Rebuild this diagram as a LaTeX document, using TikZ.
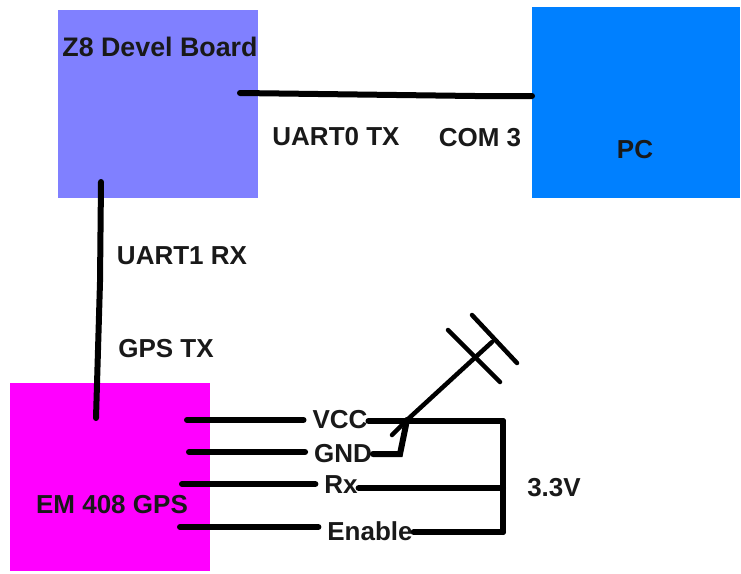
\documentclass[tikz,border=0pt]{standalone}
\usepackage{fontspec}
\setmainfont{Liberation Sans}
\begin{document}
\begin{tikzpicture}[x=1pt, y=-1pt,
    board/.style={draw=none, inner sep=0pt, outer sep=0pt, anchor=north west},
    label/.style={inner sep=0pt, outer sep=1pt, font=\fontsize{26}{28}\bfseries\selectfont, color=black!90},
    wire/.style={line width=6pt, line cap=round, color=black},
    pin wire/.style={wire, shorten >=8pt},
    thin wire/.style={line width=4.5pt, line cap=round, color=black}]

    \useasboundingbox (0,0) rectangle (741,573);

    \node (z8) [board, fill={rgb,255:red,128;green,128;blue,255}, minimum width=200pt, minimum height=188pt] at (58,10) {};
    \node (pc) [board, fill={rgb,255:red,0;green,128;blue,255}, minimum width=208pt, minimum height=191pt] at (532,7) {};
    \node (em) [board, fill={rgb,255:red,255;green,0;blue,255}, minimum width=200pt, minimum height=188pt] at (10,383) {};

    \node (z8name) [label, font=\fontsize{26.8}{28}\bfseries\selectfont] at (160,47) {Z8 Devel Board};
    \node (pcname) [label] at (635,150) {PC};
    \node (emname) [label] at (112,505) {EM 408 GPS};
    \node (uart0) [label] at (336,137) {UART0 TX};
    \node (com3) [label] at (480,138) {COM 3};
    \node (uart1) [label] at (182,256) {UART1 RX};
    \node (gpstx) [label] at (166,349) {GPS TX};
    \node (vcc) [label] at (340,420) {VCC};
    \node (gnd) [label] at (343,454) {GND};
    \node (rx) [label] at (341,485) {Rx};
    \node (enable) [label] at (370,531) {Enable};
    \node (volt) [label] at (554,488) {3.3V};

    \coordinate (z8tx) at (240,93);
    \coordinate (txbend) at (475,96);
    \coordinate (z8rx) at (101,182);
    \coordinate (rxbend) at (100,282);
    \coordinate (gpsout) at (96,418);
    \coordinate (pinvcc) at (187,420);
    \coordinate (pingnd) at (189,452);
    \coordinate (pinrx) at (182,484);
    \coordinate (pinen) at (180,527);
    \coordinate (railtop) at (503,421);
    \coordinate (railrx) at (503,488);
    \coordinate (railbot) at (503,532);
    \coordinate (gndbend) at (400,454);
    \coordinate (antfoot) at (407,420);
    \coordinate (anttop) at (492,342);
    \coordinate (barlow1) at (448,330);
    \coordinate (barlow2) at (500,382);
    \coordinate (barup1) at (472,315);
    \coordinate (barup2) at (517,363);
    \coordinate (barbe) at (392,435);

    \draw [wire] (z8tx) -- (txbend) -- (pc.west |- txbend);
    \draw [wire] (z8rx) -- (rxbend) -- (gpsout);
    \draw [pin wire] (pinvcc) -- (vcc.west |- pinvcc);
    \draw [pin wire] (pingnd) -- (gnd.west |- pingnd);
    \draw [pin wire] (pinrx) -- (rx.west |- pinrx);
    \draw [pin wire] (pinen) -- (enable.west |- pinen);
    \draw [wire] (vcc.east |- railtop) -- (railtop);
    \draw [wire] (gnd.east) -- (gndbend) -- (antfoot);
    \draw [wire] (rx.east |- railrx) -- (railrx);
    \draw [wire] (enable.east |- railbot) -- (railbot);
    \draw [wire] (railtop) -- (railbot);
    \draw [thin wire] (antfoot) -- (anttop);
    \draw [thin wire] (barlow1) -- (barlow2);
    \draw [thin wire] (barup1) -- (barup2);
    \draw [thin wire] (barbe) -- (antfoot);
\end{tikzpicture}
\end{document}
